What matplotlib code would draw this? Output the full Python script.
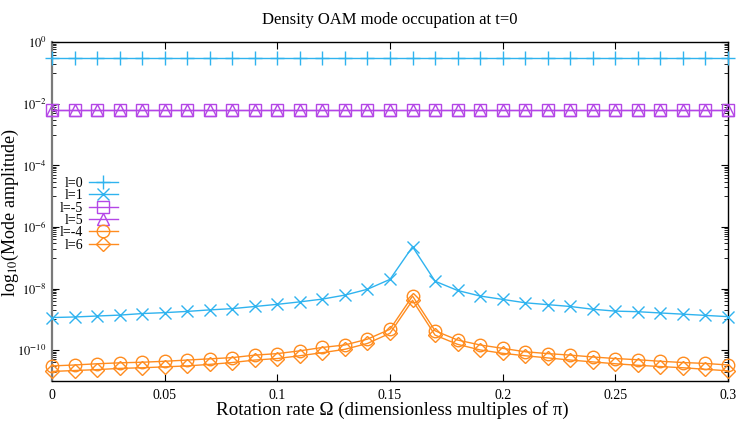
import numpy as np
import matplotlib
matplotlib.use('Agg')
import matplotlib.pyplot as plt
from matplotlib.ticker import FixedLocator, NullFormatter

plt.rcParams['font.family'] = ['Liberation Serif', 'DejaVu Serif']
plt.rcParams['mathtext.fontset'] = 'stix'

omega = [0.00, 0.01, 0.02, 0.03, 0.04, 0.05, 0.06, 0.07, 0.08, 0.09, 0.10,
         0.11, 0.12, 0.13, 0.14, 0.15, 0.16, 0.17, 0.18, 0.19, 0.20,
         0.21, 0.22, 0.23, 0.24, 0.25, 0.26, 0.27, 0.28, 0.29, 0.30]

l0 = [0.318, 0.318, 0.318, 0.318, 0.318, 0.318, 0.318, 0.318, 0.318, 0.318, 0.318,
      0.318, 0.318, 0.318, 0.318, 0.318, 0.318, 0.318, 0.318, 0.318, 0.318,
      0.318, 0.318, 0.318, 0.318, 0.318, 0.318, 0.318, 0.318, 0.318, 0.318]

l1 = [1.15e-9, 1.20e-9, 1.29e-9, 1.38e-9, 1.55e-9, 1.66e-9, 1.82e-9, 2.04e-9,
      2.24e-9, 2.63e-9, 3.09e-9, 3.72e-9, 4.57e-9, 6.17e-9, 9.55e-9, 2.00e-8,
      2.29e-7, 1.74e-8, 8.71e-9, 5.75e-9, 4.47e-9, 3.47e-9, 3.02e-9, 2.63e-9,
      2.14e-9, 1.86e-9, 1.78e-9, 1.62e-9, 1.48e-9, 1.35e-9, 1.23e-9]

lm5 = [0.0064, 0.0064, 0.0064, 0.0064, 0.0064, 0.0064, 0.0064, 0.0064, 0.0064, 0.0064, 0.0064,
       0.0064, 0.0064, 0.0064, 0.0064, 0.0064, 0.0064, 0.0064, 0.0064, 0.0064, 0.0064,
       0.0064, 0.0064, 0.0064, 0.0064, 0.0064, 0.0064, 0.0064, 0.0064, 0.0064, 0.0064]

l5 = [0.0064, 0.0064, 0.0064, 0.0064, 0.0064, 0.0064, 0.0064, 0.0064, 0.0064, 0.0064, 0.0064,
      0.0064, 0.0064, 0.0064, 0.0064, 0.0064, 0.0064, 0.0064, 0.0064, 0.0064, 0.0064,
      0.0064, 0.0064, 0.0064, 0.0064, 0.0064, 0.0064, 0.0064, 0.0064, 0.0064, 0.0064]

lm4 = [3.09e-11, 3.31e-11, 3.63e-11, 3.89e-11, 4.07e-11, 4.37e-11, 4.79e-11, 5.25e-11,
       5.75e-11, 6.92e-11, 7.76e-11, 9.55e-11, 1.23e-10, 1.48e-10, 2.29e-10, 4.79e-10,
       5.75e-9, 4.27e-10, 2.14e-10, 1.48e-10, 1.15e-10, 8.91e-11, 7.76e-11, 6.92e-11,
       6.03e-11, 5.37e-11, 4.90e-11, 4.37e-11, 3.98e-11, 3.72e-11, 3.31e-11]

l6 = [2.04e-11, 2.19e-11, 2.34e-11, 2.57e-11, 2.69e-11, 2.88e-11, 3.09e-11, 3.47e-11,
      3.98e-11, 4.79e-11, 5.37e-11, 6.61e-11, 8.32e-11, 1.07e-10, 1.66e-10, 3.55e-10,
      4.17e-9, 3.09e-10, 1.55e-10, 1.02e-10, 7.94e-11, 6.61e-11, 5.62e-11, 4.79e-11,
      4.17e-11, 3.63e-11, 3.24e-11, 2.95e-11, 2.69e-11, 2.40e-11, 2.14e-11]

labels = ['l=0', 'l=1', 'l=-5', 'l=5', 'l=-4', 'l=6']
xticks = [0, 0.05, 0.1, 0.15, 0.2, 0.25, 0.3]
xticklabels = ['0', '0.05', '0.1', '0.15', '0.2', '0.25', '0.3']
ymajor_exp = [0, -2, -4, -6, -8, -10]

blue = '#2fb3ef'
purple = '#b446e6'
orange = '#ff8c1f'

W, H = 747, 421
fig = plt.figure(figsize=(W / 100, H / 100), dpi=100)
ax = fig.add_axes([52 / W, 1 - 381 / H, (728 - 52) / W, (381 - 42.3) / H])

series = [
    (l0, blue, '+', 10),
    (l1, blue, 'x', 9),
    (lm5, purple, 's', 8),
    (l5, purple, '^', 8),
    (lm4, orange, 'o', 9),
    (l6, orange, 'D', 7),
]
for (vals, col, mk, ms), lab in zip(series, labels):
    ax.plot(omega, vals, color=col, lw=1.0, marker=mk, ms=ms, mfc='none',
            mec=col, mew=1.0, label=lab, clip_on=False, zorder=3)

ax.set_yscale('log')
ax.set_xlim(0, 0.3)
ax.set_ylim(1e-11, 1)

ax.xaxis.set_major_locator(FixedLocator(xticks))
ax.set_xticklabels(xticklabels)
ax.xaxis.set_minor_locator(FixedLocator([]))

ymaj = [10.0 ** e for e in ymajor_exp]
ax.yaxis.set_major_locator(FixedLocator(ymaj))
ax.set_yticklabels([r'$10^{%d}$' % e for e in ymajor_exp])
yminor = [m * 10.0 ** e for e in [-1, -3, -5, -7, -9, -11] for m in range(1, 10)]
ax.yaxis.set_minor_locator(FixedLocator(yminor))
ax.yaxis.set_minor_formatter(NullFormatter())

ax.tick_params(which='both', direction='in', top=True, right=True)
ax.tick_params(which='major', length=5, width=0.8, pad=6)
ax.tick_params(which='minor', length=3, width=0.6)
ax.tick_params(axis='x', labelsize=10)
ax.tick_params(axis='y', labelsize=9, pad=4)

for s in ['top', 'bottom', 'right']:
    ax.spines[s].set_color('black')
    ax.spines[s].set_linewidth(1.0)
ax.spines['left'].set_color('#7a7a7a')
ax.spines['left'].set_linewidth(1.6)

fig.text(390 / W, 1 - 20 / H, 'Density OAM mode occupation at t=0',
         ha='center', va='center', fontsize=12)
fig.text(392 / W, 1 - 410 / H, 'Rotation rate Ω (dimensionless multiples of π)',
         ha='center', va='center', fontsize=13.7)
fig.text(10 / W, 1 - 213 / H, r'log$_{10}$(Mode amplitude)',
         ha='center', va='center', rotation=90, fontsize=13)

leg = ax.legend(loc='upper right', bbox_to_anchor=(118 / W, 1 - 177 / H),
                bbox_transform=fig.transFigure, frameon=False, markerfirst=False,
                fontsize=10, handlelength=2.1, handletextpad=0.4,
                labelspacing=-0.05, borderpad=0, borderaxespad=0, numpoints=1)
for colbox in leg._legend_handle_box.get_children():
    colbox.align = 'right'

fig.savefig('out.png', dpi=100)
